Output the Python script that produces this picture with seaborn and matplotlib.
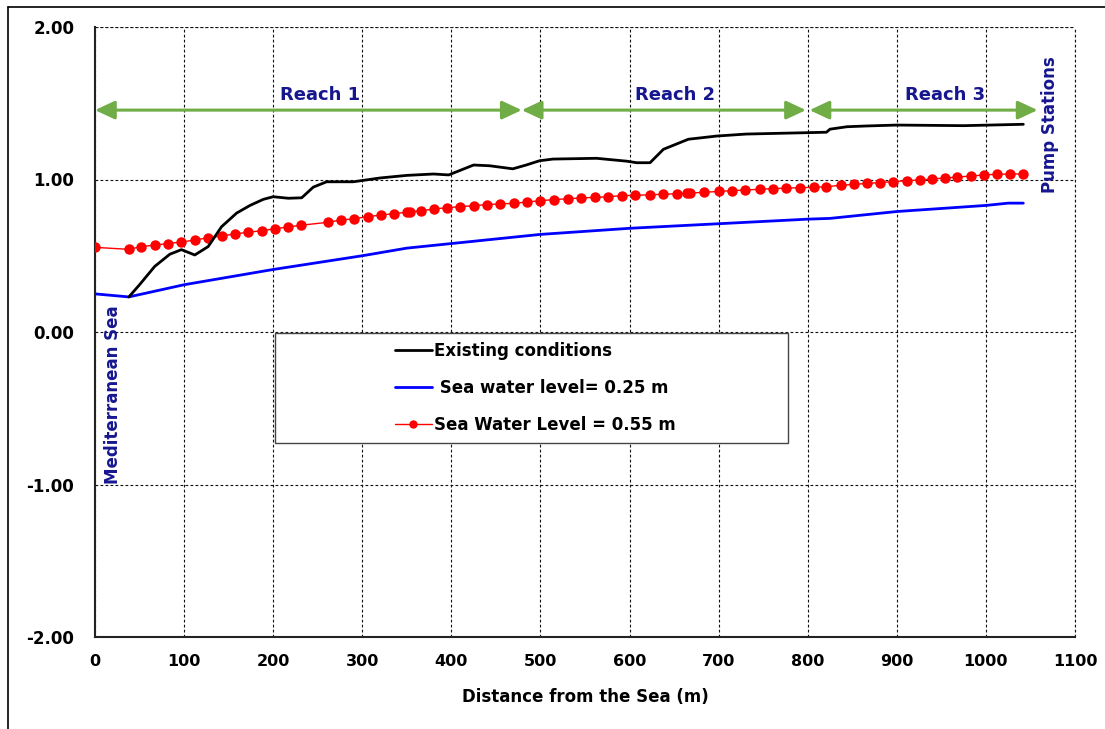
import matplotlib
matplotlib.use("Agg")
import matplotlib.pyplot as plt
import seaborn as sns
import pandas as pd
from matplotlib.patches import Rectangle
from matplotlib.lines import Line2D

# ---------------- data ----------------
exist_x = [38, 50, 67, 84, 97, 112, 127, 142, 159, 174, 189, 200, 217, 232, 245, 260, 290, 320, 350, 380,
           397, 425, 443, 469, 484, 499, 514, 563, 597, 608, 623, 638, 666, 698, 731, 799, 821, 825, 844, 866,
           900, 975, 1042]
exist_y = [0.23, 0.31, 0.43, 0.51, 0.54, 0.505, 0.56, 0.69, 0.78, 0.83, 0.87, 0.887, 0.877, 0.88, 0.95, 0.985,
           0.985, 1.01, 1.027, 1.036, 1.03, 1.095, 1.09, 1.07, 1.095, 1.123, 1.134, 1.139, 1.12, 1.11, 1.11,
           1.198, 1.264, 1.285, 1.298, 1.307, 1.31, 1.33, 1.346, 1.351, 1.357, 1.353, 1.362]

sea025_x = [0, 38, 100, 200, 300, 350, 400, 500, 600, 700, 800, 825, 900, 1000, 1025, 1042]
sea025_y = [0.25, 0.23, 0.31, 0.41, 0.50, 0.55, 0.58, 0.64, 0.68, 0.71, 0.74, 0.745, 0.79, 0.83, 0.845, 0.845]

sea055_x = [0, 38, 52, 67, 82, 97, 112, 127, 142, 157, 172, 187, 202, 217, 231, 261, 276, 291, 306, 321,
            336, 350, 354, 366, 381, 395, 410, 425, 440, 455, 470, 485, 499, 515, 531, 546, 561, 576, 591, 606,
            623, 638, 653, 664, 668, 684, 700, 715, 730, 746, 761, 776, 791, 807, 821, 837, 852, 866, 881, 896,
            911, 926, 940, 954, 968, 983, 998, 1012, 1027, 1042]
sea055_y = [0.555, 0.542, 0.56, 0.57, 0.58, 0.59, 0.603, 0.618, 0.63, 0.643, 0.654, 0.664, 0.677, 0.689, 0.70,
            0.719, 0.734, 0.743, 0.756, 0.767, 0.776, 0.785, 0.787, 0.795, 0.807, 0.815, 0.822, 0.828, 0.836,
            0.840, 0.844, 0.852, 0.861, 0.868, 0.874, 0.879, 0.883, 0.887, 0.894, 0.896, 0.900, 0.903, 0.907,
            0.910, 0.911, 0.916, 0.922, 0.927, 0.931, 0.936, 0.940, 0.944, 0.946, 0.949, 0.953, 0.962, 0.968,
            0.974, 0.980, 0.986, 0.992, 0.997, 1.003, 1.010, 1.016, 1.023, 1.030, 1.034, 1.036, 1.036]

series_labels = ["Existing conditions", " Sea water level= 0.25 m", "Sea Water Level = 0.55 m"]

reach_names = ["Reach 1", "Reach 2", "Reach 3"]
reach_start = [0, 479, 802]
reach_end = [479, 798, 1058]
reach_label_x = [253, 651, 954]

x_ticks = [0, 100, 200, 300, 400, 500, 600, 700, 800, 900, 1000, 1100]
y_ticks = [-2.0, -1.0, 0.0, 1.0, 2.0]
x_label = "Distance from the Sea (m)"

# ---------------- figure ----------------
sns.set_style("white")
plt.rcParams["font.family"] = ["DejaVu Sans"]
plt.rcParams["font.weight"] = "bold"
plt.rcParams["text.color"] = "black"
plt.rcParams["axes.labelcolor"] = "black"
plt.rcParams["xtick.color"] = "black"
plt.rcParams["ytick.color"] = "black"

fig = plt.figure(figsize=(11.05, 7.29), dpi=100)
ax = fig.add_axes([95 / 1105, 1 - 637 / 729, 980 / 1105, 610 / 729])

df_e = pd.DataFrame({"x": exist_x, "y": exist_y})
df_b = pd.DataFrame({"x": sea025_x, "y": sea025_y})
df_r = pd.DataFrame({"x": sea055_x, "y": sea055_y})

sns.lineplot(data=df_r, x="x", y="y", ax=ax, color="#FF0000", lw=1.0, marker="o", markersize=7.5,
             markeredgewidth=0, sort=False, estimator=None, label=series_labels[2], zorder=4)
sns.lineplot(data=df_b, x="x", y="y", ax=ax, color="#0000FF", lw=2.0, sort=False, estimator=None,
             label=series_labels[1], zorder=3)
sns.lineplot(data=df_e, x="x", y="y", ax=ax, color="#000000", lw=2.0, sort=False, estimator=None,
             label=series_labels[0], zorder=5)

ax.set_xlim(0, 1100)
ax.set_ylim(-2, 2)
ax.set_xticks(x_ticks)
ax.set_yticks(y_ticks)
ax.set_xticklabels([str(v) for v in x_ticks], fontsize=11.5, fontweight="bold", color="black")
ax.set_yticklabels([f"{v:.2f}" for v in y_ticks], fontsize=12, fontweight="bold", color="black")
ax.set_xlabel(x_label, fontsize=12, fontweight="bold", labelpad=14, color="black")
ax.set_ylabel("")
ax.tick_params(axis="y", direction="out", length=5, width=1, color="black", pad=10)
ax.tick_params(axis="x", direction="out", length=4, width=1, color="black", pad=8)

ax.grid(True, color="#111111", linestyle=(0, (2.5, 2)), linewidth=0.8)
for s in ["top", "right"]:
    ax.spines[s].set_visible(False)
for s in ["left", "bottom"]:
    ax.spines[s].set_color("#222222")
    ax.spines[s].set_linewidth(1.5)
ax.axhline(2.0, color="#111111", linestyle=(0, (2.5, 2)), linewidth=0.8, zorder=1)
ax.axvline(1100, color="#111111", linestyle=(0, (2.5, 2)), linewidth=0.8, zorder=1, clip_on=False)

# reach arrows and labels
navy = "#16168F"
green = "#70AD47"
for name, a, b, lx in zip(reach_names, reach_start, reach_end, reach_label_x):
    ax.annotate("", xy=(b, 1.455), xytext=(a, 1.455),
                arrowprops=dict(arrowstyle="<|-|>,head_length=0.6,head_width=0.28", color=green,
                                lw=2.2, shrinkA=0, shrinkB=0, mutation_scale=20), zorder=6)
    ax.text(lx, 1.555, name, color=navy, fontsize=13, fontweight="bold", ha="center", va="center")

ax.text(20, -0.41, "Mediterranean Sea", rotation=90, color=navy, fontsize=12, fontweight="bold",
        ha="center", va="center", zorder=7)
ax.text(1072, 1.357, "Pump Stations", rotation=90, color=navy, fontsize=12, fontweight="bold",
        ha="center", va="center", clip_on=False)

# legend box
rect = Rectangle((0.1837, 0.318), 0.5235, 0.180, transform=ax.transAxes, facecolor="white",
                 edgecolor="#444444", linewidth=1.0, zorder=8)
ax.add_patch(rect)
handles, labels = ax.get_legend_handles_labels()
order = [labels.index(l) for l in series_labels]
leg = ax.legend([handles[i] for i in order], [labels[i] for i in order], loc="upper left",
                bbox_to_anchor=(0.306, 0.484), frameon=False, fontsize=12, handlelength=2.2,
                handletextpad=0.15, labelspacing=1.15, borderpad=0, borderaxespad=0, markerscale=0.8)
leg.set_zorder(9)
for t in leg.get_texts():
    t.set_fontweight("bold")
    t.set_color("black")

# figure border lines
fig.add_artist(Line2D([8 / 1105, 8 / 1105], [0, 1 - 7 / 729], transform=fig.transFigure, color="black", lw=1.2))
fig.add_artist(Line2D([8 / 1105, 1], [1 - 7 / 729, 1 - 7 / 729], transform=fig.transFigure, color="black", lw=1.2))

fig.savefig("out.png", dpi=100)
